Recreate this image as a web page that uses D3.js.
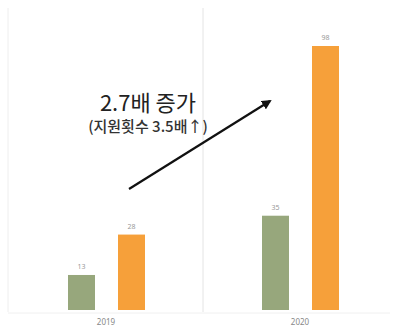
<!DOCTYPE html>
<html>
<head>
<meta charset="utf-8">
<script src="https://cdn.jsdelivr.net/npm/d3@7"></script>
<style>
  body { margin: 0; background: #fff; }
</style>
</head>
<body>
<div id="chart"></div>
<script>
// data
const years = ["2019", "2020"];
const seriesNames = ["기업", "지원"];
const greenValues = [13, 35];
const orangeValues = [28, 98];
const colors = ["#97a77c", "#f6a03a"];

const width = 393, height = 329;

const svg = d3.select("#chart")
    .append("svg")
    .attr("width", width)
    .attr("height", height);

const x0 = d3.scaleBand().domain(years).range([9, 397]);
const x1 = d3.scaleBand().domain(seriesNames).range([59, 136]).paddingInner(0.46);
const y = d3.scaleLinear().domain([0, 98]).range([310, 46]);

// faint separators
svg.append("line")
    .attr("x1", 8).attr("x2", 8).attr("y1", 8).attr("y2", 312)
    .attr("stroke", "#eeeeee");
svg.append("line")
    .attr("x1", x0("2020")).attr("x2", x0("2020")).attr("y1", 8).attr("y2", 312)
    .attr("stroke", "#e4e4e4");
svg.append("line")
    .attr("x1", 8).attr("x2", 390).attr("y1", 313).attr("y2", 313)
    .attr("stroke", "#f0f0f0");

const rows = years.map((yr, i) => ({year: yr, vals: [greenValues[i], orangeValues[i]]}));

const groups = svg.selectAll(".grp")
    .data(rows)
    .enter()
    .append("g")
    .attr("transform", d => `translate(${x0(d.year)},0)`);

groups.selectAll("rect")
    .data(d => d.vals.map((v, j) => ({name: seriesNames[j], v: v, c: colors[j]})))
    .enter()
    .append("rect")
    .attr("x", d => x1(d.name))
    .attr("y", d => y(d.v))
    .attr("width", x1.bandwidth())
    .attr("height", d => y(0) - y(d.v))
    .attr("fill", d => d.c);

groups.selectAll(".val")
    .data(d => d.vals.map((v, j) => ({name: seriesNames[j], v: v})))
    .enter()
    .append("text")
    .attr("x", d => x1(d.name) + x1.bandwidth() / 2)
    .attr("y", d => y(d.v) - 6)
    .attr("text-anchor", "middle")
    .attr("font-family", "Noto Sans")
    .attr("font-size", "7px")
    .attr("fill", "#999")
    .text(d => d.v);

// x labels
svg.selectAll(".xl")
    .data(years)
    .enter()
    .append("text")
    .attr("x", d => x0(d) + 97)
    .attr("y", 325)
    .attr("text-anchor", "middle")
    .attr("font-family", "Noto Sans")
    .attr("font-size", "8px")
    .attr("fill", "#888")
    .text(d => d);

// arrow
svg.append("defs").append("marker")
    .attr("id", "head")
    .attr("viewBox", "0 0 10 10")
    .attr("refX", 8).attr("refY", 5)
    .attr("markerWidth", 4.5).attr("markerHeight", 4.5)
    .attr("orient", "auto")
    .append("path")
    .attr("d", "M0,0L10,5L0,10z")
    .attr("fill", "#111");

svg.append("line")
    .attr("x1", 129).attr("y1", 189)
    .attr("x2", 270).attr("y2", 101)
    .attr("stroke", "#111")
    .attr("stroke-width", 2.2)
    .attr("marker-end", "url(#head)");

// annotation
svg.append("text")
    .attr("x", 148).attr("y", 111)
    .attr("text-anchor", "middle")
    .attr("font-family", "Noto Sans CJK KR")
    .attr("font-size", "22px")
    .attr("fill", "#222")
    .text("2.7배 증가");
svg.append("text")
    .attr("x", 148).attr("y", 132)
    .attr("text-anchor", "middle")
    .attr("font-family", "Noto Sans CJK KR")
    .attr("font-size", "15px")
    .attr("font-weight", "500")
    .attr("fill", "#333")
    .text("(지원횟수 3.5배↑)");
</script>
</body>
</html>
